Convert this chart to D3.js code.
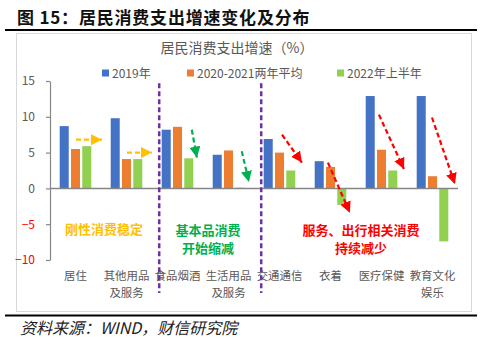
<!DOCTYPE html>
<html>
<head>
<meta charset="utf-8">
<script src="https://cdn.jsdelivr.net/npm/d3@7"></script>
<style>
  body { margin: 0; background: #fff; }
  text { font-family: "Noto Sans CJK SC", "Noto Sans", sans-serif; }
</style>
</head>
<body>
<svg id="viz" width="500" height="346"></svg>
<script>
// categories + series (growth, %)
let categories = ["居住", "其他用品\n及服务", "食品烟酒", "生活用品\n及服务", "交通通信", "衣着", "医疗保健", "教育文化\n娱乐"];
let seriesNames = ["2019年", "2020-2021两年平均", "2022年上半年"];
let v2019 = [8.7, 9.8, 8.2, 4.7, 6.9, 3.8, 12.9, 12.9];
let v2021avg = [5.5, 4.1, 8.6, 5.3, 5.0, 3.0, 5.4, 1.7];
let v2022h1 = [5.9, 4.1, 4.2, 0.1, 2.5, -2.3, 2.5, -7.4];
let yTicks = [-10, -5, 0, 5, 10, 15];

let colors = ["#4472C4", "#ED7D31", "#92D050"];

let svg = d3.select("#viz");

// outer page bits
svg.append("text").attr("x", 17).attr("y", 24)
  .attr("font-size", 17).attr("font-weight", "bold").attr("fill", "#111")
  .style("letter-spacing", "0.8px")
  .text("图 15：居民消费支出增速变化及分布");
svg.append("rect").attr("x", 5).attr("y", 29).attr("width", 472).attr("height", 2).attr("fill", "#000");
svg.append("rect").attr("x", 16.5).attr("y", 33.5).attr("width", 455).attr("height", 278)
  .attr("fill", "#fff").attr("stroke", "#d9d9d9");
svg.append("rect").attr("x", 5).attr("y", 314.5).attr("width", 472).attr("height", 2).attr("fill", "#000");
svg.append("text").attr("x", 20).attr("y", 334)
  .attr("font-size", 16).attr("font-style", "italic").attr("fill", "#222")
  .text("资料来源：WIND，财信研究院");

// chart title
svg.append("text").attr("x", 237).attr("y", 53).attr("text-anchor", "middle")
  .attr("font-size", 14).attr("fill", "#595959").text("居民消费支出增速（%）");

// scales
let xScale = d3.scaleBand().domain(categories).range([50, 458]);
let bw = xScale.bandwidth();
let x1 = d3.scaleBand().domain(seriesNames).range([0, bw]).paddingInner(0.2).paddingOuter(0.86);
let yScale = d3.scaleLinear().domain([-10, 15]).range([260, 81]);
// continuous x for annotations (in category units)
let xPos = d3.scaleLinear().domain([0, categories.length]).range([50, 458]);

// legend
let legendX = [102, 187, 337];
let lg = svg.append("g").selectAll("g").data(seriesNames).enter().append("g")
  .attr("transform", (d, i) => `translate(${legendX[i]},73)`);
lg.append("rect").attr("x", 0).attr("y", -3.5).attr("width", 7).attr("height", 7)
  .attr("fill", (d, i) => colors[i]);
lg.append("text").attr("x", 10).attr("y", 4.5).attr("font-size", 12).attr("fill", "#595959").text(d => d);

// y axis
let yAxis = svg.append("g").attr("transform", "translate(50,0)")
  .call(d3.axisLeft(yScale).tickValues(yTicks).tickSize(4).tickSizeOuter(0).tickPadding(11));
yAxis.select(".domain").attr("stroke", "#868686").attr("stroke-width", 1.2);
yAxis.selectAll(".tick line").attr("stroke", "#868686").attr("stroke-width", 1.2);
yAxis.selectAll(".tick text").attr("font-size", 12)
  .attr("font-family", "Liberation Sans, sans-serif")
  .attr("fill", d => d < 0 ? "#FF0000" : "#595959");

// bars
let allSeries = [v2019, v2021avg, v2022h1];
let rows = [];
categories.forEach((c, i) => {
  seriesNames.forEach((s, j) => rows.push({ cat: c, series: s, value: allSeries[j][i], k: j }));
});
svg.append("g").selectAll("rect").data(rows).enter().append("rect")
  .attr("x", d => xScale(d.cat) + x1(d.series))
  .attr("width", x1.bandwidth())
  .attr("y", d => yScale(Math.max(0, d.value)))
  .attr("height", d => Math.abs(yScale(d.value) - yScale(0)))
  .attr("fill", d => colors[d.k]);

// zero line
svg.append("line").attr("x1", 50).attr("x2", 458).attr("y1", yScale(0)).attr("y2", yScale(0))
  .attr("stroke", "#868686").attr("stroke-width", 1.5);

// category labels, one text per line
let labelLines = [];
categories.forEach(c => c.split("\n").forEach((t, i) => labelLines.push({ cat: c, t: t, i: i })));
svg.append("g").selectAll("text").data(labelLines).enter().append("text")
  .attr("x", d => xScale(d.cat) + bw / 2)
  .attr("y", d => 280 + d.i * 16.6)
  .attr("text-anchor", "middle").attr("font-size", 11.4).attr("fill", "#595959")
  .text(d => d.t);

// purple dividers (just left of the blue bar)
let dividers = ["食品烟酒", "交通通信"];
svg.append("g").selectAll("line").data(dividers).enter().append("line")
  .attr("x1", d => xScale(d) + x1(seriesNames[0]) - 2.5)
  .attr("x2", d => xScale(d) + x1(seriesNames[0]) - 2.5)
  .attr("y1", yScale(14.7)).attr("y2", 293)
  .attr("stroke", "#7030A0").attr("stroke-width", 2.5).attr("stroke-dasharray", "5,3");

// arrows
let arrowColors = { y: "#FFC000", g: "#00B050", r: "#FF0000" };
let defs = svg.append("defs");
Object.entries(arrowColors).forEach(([k, c]) => {
  defs.append("marker").attr("id", "arr-" + k)
    .attr("viewBox", "0 0 10 10").attr("refX", 10).attr("refY", 5)
    .attr("markerWidth", 11).attr("markerHeight", 11).attr("markerUnits", "userSpaceOnUse")
    .attr("orient", "auto")
    .append("path").attr("d", "M0,0 L10,5 L0,10 Z").attr("fill", c);
});
let arrows = [
  ["y", 0.51, 6.8, 1.02, 6.8],
  ["y", 1.51, 5.0, 2.0, 5.0],
  ["g", 2.78, 8.2, 2.88, 4.3],
  ["g", 3.76, 5.2, 3.90, 0.9],
  ["r", 4.55, 7.5, 4.94, 3.6],
  ["r", 5.45, 3.6, 5.88, -3.4],
  ["r", 6.45, 10.3, 6.94, 2.7],
  ["r", 7.49, 9.9, 7.94, 0.6]
];
svg.append("g").selectAll("line").data(arrows).enter().append("line")
  .attr("x1", d => xPos(d[1])).attr("y1", d => yScale(d[2]))
  .attr("x2", d => xPos(d[3])).attr("y2", d => yScale(d[4]))
  .attr("stroke", d => arrowColors[d[0]]).attr("stroke-width", 2.2)
  .attr("stroke-dasharray", "5,3")
  .attr("marker-end", d => `url(#arr-${d[0]})`);

// annotation text
let notes = [
  { lines: ["刚性消费稳定"], at: 1.06, y: -5.8, c: arrowColors.y },
  { lines: ["基本品消费", "开始缩减"], at: 3.1, y: -5.9, c: arrowColors.g },
  { lines: ["服务、出行相关消费", "持续减少"], at: 6.1, y: -5.9, c: arrowColors.r }
];
notes.forEach(n => {
  n.lines.forEach((line, i) => {
    svg.append("text").attr("x", xPos(n.at)).attr("y", yScale(n.y) + 4.5 + i * 18)
      .attr("text-anchor", "middle").attr("font-size", 13).attr("font-weight", "bold")
      .attr("fill", n.c).text(line);
  });
});
</script>
</body>
</html>
